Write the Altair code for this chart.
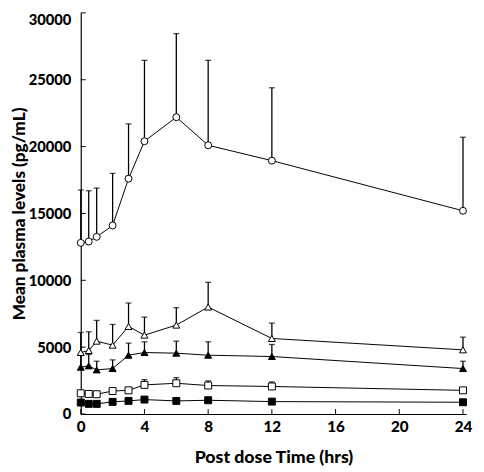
import altair as alt
import pandas as pd

time = [0, 0.5, 1, 2, 3, 4, 6, 8, 12, 24]

circle_mean = [12800, 12900, 13250, 14100, 17600, 20400, 22200, 20100, 18950, 15200]
circle_top = [16750, 16700, 16900, 18000, 21700, 26450, 28450, 26450, 24400, 20700]

open_tri_mean = [4600, 4750, 5450, 5150, 6550, 5900, 6650, 8000, 5650, 4800]
open_tri_top = [6100, 6150, 7000, 6700, 8300, 7250, 7950, 9850, 6800, 5750]

filled_tri_mean = [3500, 3600, 3300, 3400, 4400, 4600, 4550, 4400, 4300, 3400]
filled_tri_top = [4500, 4450, 3950, 4050, 5300, 5400, 5450, 5400, 5200, 3950]

open_sq_mean = [1550, 1500, 1480, 1720, 1770, 2180, 2300, 2130, 2060, 1770]
open_sq_top = [1750, 1700, 1650, 1900, 1950, 2570, 2720, 2480, 2400, 1950]

filled_sq_mean = [860, 760, 760, 910, 980, 1080, 980, 1030, 930, 880]
filled_sq_top = [950, 850, 850, 1000, 1080, 1200, 1080, 1130, 1030, 960]

series_names = ["circle_open", "tri_open", "tri_filled", "sq_open", "sq_filled"]
series_shapes = ["circle", "triangle-up", "triangle-up", "square", "square"]
series_fills = ["white", "white", "black", "white", "black"]

x_ticks = [0, 4, 8, 12, 16, 20, 24]
y_ticks = [0, 5000, 10000, 15000, 20000, 25000, 30000]

means = [circle_mean, open_tri_mean, filled_tri_mean, open_sq_mean, filled_sq_mean]
tops = [circle_top, open_tri_top, filled_tri_top, open_sq_top, filled_sq_top]

rows = []
for name, m, t in zip(series_names, means, tops):
    for ti, mi, tp in zip(time, m, t):
        rows.append({"time": ti, "mean": mi, "top": tp, "series": name})
df = pd.DataFrame(rows)

W, H = 392, 408
FONT = "Lato"
WEIGHT = 900

xscale = alt.Scale(domain=[0, 24.2], nice=False, zero=False)
yscale = alt.Scale(domain=[0, 30000], nice=False)

xaxis = alt.Axis(
    values=x_ticks, ticks=False, tickSize=0, grid=False, domainColor="black",
    domainWidth=1.2, labelFont=FONT, labelFontWeight=WEIGHT, labelFontSize=15.5,
    labelColor="black", labelPadding=6, title="Post dose Time (hrs)",
    titleFont=FONT, titleFontWeight=WEIGHT, titleFontSize=18, titleColor="black",
    titlePadding=14, labelFlush=False,
)
yaxis = alt.Axis(
    values=y_ticks, ticks=False, tickSize=0, grid=False, domainColor="black",
    domainWidth=1.2, labelFont=FONT, labelFontWeight=WEIGHT, labelFontSize=15,
    labelColor="black", labelPadding=10, format="d",
    labelOffset={"condition": {"test": "datum.value == 30000", "value": 7}, "value": 0},
    title="Mean plasma levels (pg/mL)", titleFont=FONT, titleFontWeight=WEIGHT,
    titleFontSize=17.5, titleColor="black", titleX=-62, titleY=H / 2,
    titleAngle=270, titleAlign="center", titleBaseline="middle", labelFlush=False,
)

X = alt.X("time:Q", scale=xscale, axis=xaxis)
base = alt.Chart(df)

err = base.mark_rule(color="black", strokeWidth=1.3).encode(
    x=X,
    y=alt.Y("mean:Q", scale=yscale, axis=yaxis),
    y2="top:Q",
    detail="series:N",
)

cap = base.mark_tick(color="black", orient="horizontal", size=6, thickness=1.3).encode(
    x=X,
    y=alt.Y("top:Q", scale=yscale, axis=yaxis),
    detail="series:N",
)

line = base.mark_line(color="black", strokeWidth=1).encode(
    x=X,
    y=alt.Y("mean:Q", scale=yscale, axis=yaxis),
    detail="series:N",
)

pts = base.mark_point(filled=True, stroke="black", strokeWidth=1, opacity=1, size=50).encode(
    x=X,
    y=alt.Y("mean:Q", scale=yscale, axis=yaxis),
    shape=alt.Shape("series:N", scale=alt.Scale(domain=series_names, range=series_shapes), legend=None),
    fill=alt.Fill("series:N", scale=alt.Scale(domain=series_names, range=series_fills), legend=None),
)

xt = alt.Chart(pd.DataFrame({"time": x_ticks})).mark_rule(color="black", strokeWidth=1).encode(
    x=X,
    y=alt.value(H),
    y2=alt.value(H - 5),
)
yt = alt.Chart(pd.DataFrame({"mean": y_ticks})).mark_rule(color="black", strokeWidth=1).encode(
    y=alt.Y("mean:Q", scale=yscale, axis=yaxis),
    x=alt.value(0),
    x2=alt.value(5),
)

chart = alt.layer(err, cap, line, pts, xt, yt).properties(
    width=W, height=H,
    background="white",
    autosize=alt.AutoSizeParams(type="none"),
    padding={"left": 74, "top": 1, "right": 10, "bottom": 55},
).configure_view(stroke=None)

chart.save("out.html", embed_options={"renderer": "svg", "actions": False})
